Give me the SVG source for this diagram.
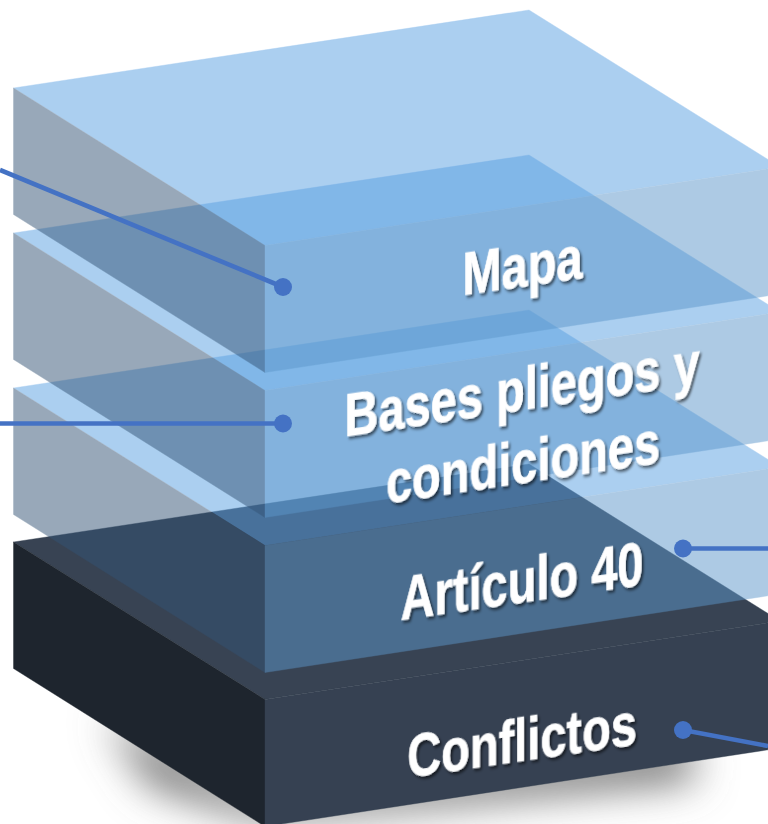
<svg xmlns="http://www.w3.org/2000/svg" width="768" height="824" viewBox="0 0 768 824">
<style>
.g{opacity:.5}
.t{fill:#59a0e2;stroke:#59a0e2;stroke-width:.4}
.l{fill:#335375;stroke:#335375;stroke-width:.4}
.r{fill:#5d97cb;stroke:#5d97cb;stroke-width:.4}
.dt{fill:#384353;stroke:#384353;stroke-width:.4}
.dl{fill:#1e252e;stroke:#1e252e;stroke-width:.4}
.dr{fill:#364152;stroke:#364152;stroke-width:.4}
.lbl{font-family:"Liberation Sans",Arial,sans-serif;font-weight:700;font-size:47px;fill:#fff;stroke:#fff;stroke-width:.5;text-anchor:middle;filter:url(#ts)}
.c{stroke:#4472c4;stroke-width:4.6;fill:none}
.d{fill:#4472c4}
</style>
<defs>
<filter id="ts" x="-10%" y="-30%" width="120%" height="160%"><feDropShadow dx="1.8" dy="2" stdDeviation="1.2" flood-color="#000" flood-opacity=".6"/></filter>
<filter id="sb" x="-20%" y="-80%" width="140%" height="260%"><feGaussianBlur stdDeviation="21"/></filter>
<polygon id="top" points="13.5,88 529,10 780,167 265,245.5"/>
<polygon id="left" points="13.5,88 265,245.5 265,372.5 13.5,214.5"/>
<polygon id="right" points="265,245.5 780,167 780,294 265,372.5"/>
</defs>
<polygon id="shadow" points="105,715 265,800 690,740 695,780 265,822 150,785" fill="#6e6e6e" filter="url(#sb)"/>
<g id="conflictos">
<g transform="translate(0,454)"><use href="#top" class="dt"/><use href="#left" class="dl"/><use href="#right" class="dr"/></g>
<text class="lbl" transform="matrix(1,-0.146,0,1.3,522,761)">Conflictos</text>
</g>
<g id="articulo-40">
<g class="g" transform="translate(0,300)"><use href="#top" class="t"/><use href="#left" class="l"/><use href="#right" class="r"/></g>
<text class="lbl" transform="matrix(1,-0.146,0,1.32,522,602.5)">Artículo 40</text>
</g>
<g id="bases-pliegos">
<g class="g" transform="translate(0,145)"><use href="#top" class="t"/><use href="#left" class="l"/><use href="#right" class="r"/></g>
<text class="lbl" transform="matrix(1,-0.15,0,1.3,522,410)">Bases pliegos y</text>
<text class="lbl" transform="matrix(1,-0.15,0,1.3,523,483)">condiciones</text>
</g>
<g id="mapa">
<g class="g"><use href="#top" class="t"/><use href="#left" class="l"/><use href="#right" class="r"/></g>
<text class="lbl" transform="matrix(1,-0.146,0,1.3,522.5,286.5)">Mapa</text>
</g>
<g id="connectors">
<line class="c" x1="0" y1="170" x2="283" y2="287"/><circle class="d" cx="283" cy="287" r="9"/>
<line class="c" x1="0" y1="423.5" x2="283" y2="423.5"/><circle class="d" cx="283" cy="423.5" r="9"/>
<line class="c" x1="683" y1="548.5" x2="768" y2="548.5"/><circle class="d" cx="683" cy="548.5" r="9"/>
<line class="c" x1="683" y1="730" x2="768" y2="746"/><circle class="d" cx="683" cy="730" r="9"/>
</g>
</svg>
